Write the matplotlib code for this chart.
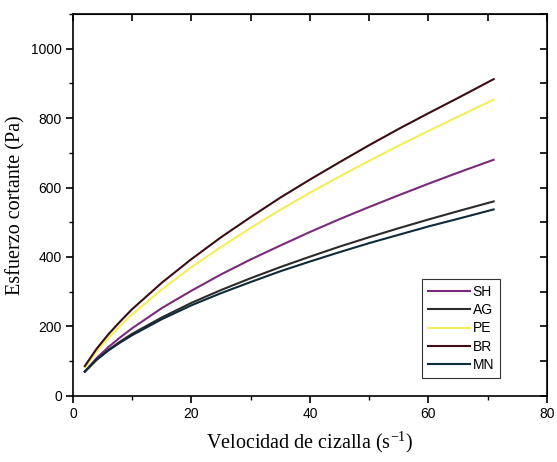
import matplotlib
matplotlib.use("Agg")
import matplotlib.pyplot as plt
from matplotlib.ticker import MultipleLocator

plt.rcParams["mathtext.fontset"] = "custom"
plt.rcParams["mathtext.rm"] = "Liberation Serif"

shear_rate = [2, 4, 6, 8, 10, 15, 20, 25, 30, 35, 40, 45, 50, 55, 60, 65, 71]
SH = [70, 109, 141, 169, 195, 253, 303, 350, 393, 433, 472, 509, 544, 578, 611, 643, 680]
AG = [70, 105, 133, 157, 179, 226, 268, 305, 339, 371, 401, 430, 457, 483, 508, 532, 560]
PE = [82, 129, 168, 203, 235, 307, 371, 429, 484, 536, 585, 632, 677, 721, 763, 804, 853]
BR = [86, 136, 178, 215, 250, 326, 394, 457, 515, 571, 623, 673, 722, 769, 814, 858, 912]
MN = [70, 104, 131, 154, 175, 221, 261, 296, 328, 359, 387, 414, 440, 464, 488, 510, 537]

series = [("SH", SH, "#7a2a7c"), ("AG", AG, "#2b2b2b"), ("PE", PE, "#f2ef5a"),
          ("BR", BR, "#3b0d12"), ("MN", MN, "#0f2a3a")]

fig = plt.figure(figsize=(5.57, 4.62), dpi=100)
ax = fig.add_axes([0.131, 0.143, 0.851, 0.827])

for name, vals, col in series:
    ax.plot(shear_rate, vals, color=col, lw=1.5, label=name)

ax.set_xlim(0, 80)
ax.set_ylim(0, 1100)
ax.xaxis.set_major_locator(MultipleLocator(20))
ax.xaxis.set_minor_locator(MultipleLocator(10))
ax.yaxis.set_major_locator(MultipleLocator(200))
ax.yaxis.set_minor_locator(MultipleLocator(100))

for sp in ax.spines.values():
    sp.set_linewidth(1.2)

ax.tick_params(which="major", direction="out", length=5, width=1.2,
               labelsize=10, pad=3)
ax.tick_params(which="minor", direction="out", length=3, width=1.0)
for lab in ax.get_xticklabels() + ax.get_yticklabels():
    lab.set_fontfamily("Liberation Sans")

sec_y = ax.secondary_yaxis("right")
sec_y.yaxis.set_major_locator(MultipleLocator(100))
sec_y.tick_params(direction="in", length=5, width=1.2, labelright=False)
sec_x = ax.secondary_xaxis("top")
sec_x.xaxis.set_major_locator(MultipleLocator(10))
sec_x.tick_params(direction="in", length=5, width=1.2, labeltop=False)

ax.set_xlabel("Velocidad de cizalla (s$^{\\mathrm{-1}}$)",
              fontfamily="Liberation Serif", fontsize=14.5, labelpad=6)
ax.set_ylabel("Esfuerzo cortante (Pa)", fontfamily="Liberation Serif",
              fontsize=14.5, labelpad=4)

leg = ax.legend(loc="lower left", bbox_to_anchor=(0.736, 0.047),
                prop={"family": "Liberation Sans", "size": 10},
                frameon=True, fancybox=False, edgecolor="black",
                handlelength=3.0, handletextpad=0.2, labelspacing=0.3,
                borderpad=0.45, borderaxespad=0)
leg.get_frame().set_linewidth(0.8)

fig.savefig("out.png", dpi=100)
